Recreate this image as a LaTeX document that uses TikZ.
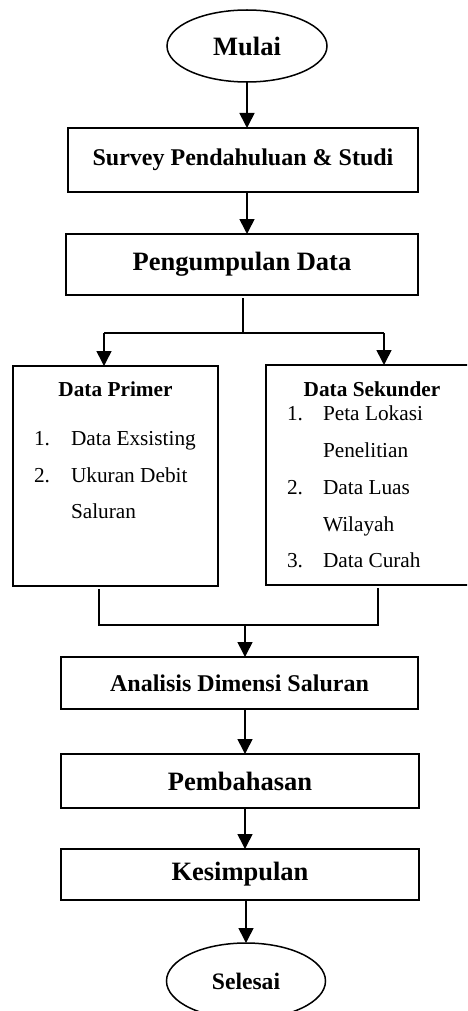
\documentclass[tikz,border=0pt]{standalone}
\usepackage{fontspec}
\setmainfont{Liberation Serif}
\usetikzlibrary{arrows.meta,shapes.geometric}
\begin{document}
\begin{tikzpicture}[x=1pt,y=-1pt,
  every node/.style={inner sep=0pt,outer sep=0pt},
  box/.style={draw,line width=1.6pt,rectangle,anchor=north west},
  oval/.style={draw,line width=1.5pt,ellipse,font=\bfseries},
  conn/.style={line width=1.6pt},
  arr/.style={line width=1.6pt,-{Triangle[width=15pt,length=15pt]}},
  fa/.style={font=\fontsize{26.5}{30}\selectfont\bfseries},
  fb/.style={font=\fontsize{24}{28}\selectfont\bfseries},
  ft/.style={font=\fontsize{21.3}{25}\selectfont\bfseries},
  item/.style={font=\fontsize{21.3}{25}\selectfont,anchor=base west}]
\useasboundingbox (0,0) rectangle (467,1011);
\begin{scope}
\clip (0,0) rectangle (467,1011);
% terminals
\node[oval,minimum width=160pt,minimum height=72pt,font=\fontsize{26.5}{30}\selectfont\bfseries] (mulai) at (247,46) {Mulai};
\node[oval,minimum width=159pt,minimum height=76pt,font=\fontsize{23.6}{28}\selectfont\bfseries] (selesai) at (246,981) {Selesai};
% boxes
\node[box,minimum width=350pt,minimum height=64pt] (survey) at (68,128) {};
\node[fb] at (survey.center) {Survey Pendahuluan \& Studi};
\node[box,minimum width=352pt,minimum height=61pt] (peng) at (66,234) {};
\node[fa] at (peng.center) {Pengumpulan Data};
\node[box,minimum width=205pt,minimum height=220pt] (primer) at (13,366) {};
\node[box,minimum width=206pt,minimum height=220pt] (sekunder) at (266,365) {};
\node[box,minimum width=357pt,minimum height=52pt] (analisis) at (61,657) {};
\node[fb] at (analisis.center) {Analisis Dimensi Saluran};
\node[box,minimum width=358pt,minimum height=54pt] (bahas) at (61,754) {};
\node[fa] at (bahas.center) {Pembahasan};
\node[box,minimum width=358pt,minimum height=51pt] (simpul) at (61,849) {};
\node[fa] at (simpul.center) {Kesimpulan};
% box texts
\node[ft,anchor=base] (tp) at (115.5,396) {Data Primer};
\node[item] (p1n) at (34,445) {1.};
\node[item] (p1) at (71,445) {Data Exsisting};
\node[item] (p2n) at (34,482) {2.};
\node[item] (p2) at (71,482) {Ukuran Debit};
\node[item] (p2b) at (71,518) {Saluran};
\node[ft,anchor=base] (ts) at (372,396) {Data Sekunder};
\node[item] (s1n) at (287,420) {1.};
\node[item] (s1) at (323,420) {Peta Lokasi};
\node[item] (s1b) at (323,457) {Penelitian};
\node[item] (s2n) at (287,494) {2.};
\node[item] (s2) at (323,494) {Data Luas};
\node[item] (s2b) at (323,531) {Wilayah};
\node[item] (s3n) at (287,567) {3.};
\node[item] (s3) at (323,567) {Data Curah};
% connectors
\coordinate (jl) at (104,333);
\coordinate (jr) at (384,333);
\coordinate (bl) at (99,625);
\coordinate (br) at (378,625);
\coordinate (bm) at (245,625);
\draw[arr] (mulai.south) -- (mulai.south |- survey.north);
\draw[arr] (survey.south -| mulai.south) -- (mulai.south |- peng.north);
\draw[conn] ([yshift=-3pt]peng.south -| 243,0) -- (243,333);
\draw[conn] (jl) -- (jr);
\draw[arr] (jl) -- (jl |- primer.north);
\draw[arr] (jr) -- (jr |- sekunder.north);
\draw[conn] ([yshift=-3pt]primer.south -| bl) -- (bl) -- (br) -- ([yshift=-3pt]sekunder.south -| br);
\draw[arr] (bm) -- (bm |- analisis.north);
\draw[arr] (analisis.south -| bm) -- (bm |- bahas.north);
\draw[arr] (bahas.south -| bm) -- (bm |- simpul.north);
\draw[arr] (simpul.south -| selesai.north) -- (selesai.north);
\end{scope}
\end{tikzpicture}
\end{document}
